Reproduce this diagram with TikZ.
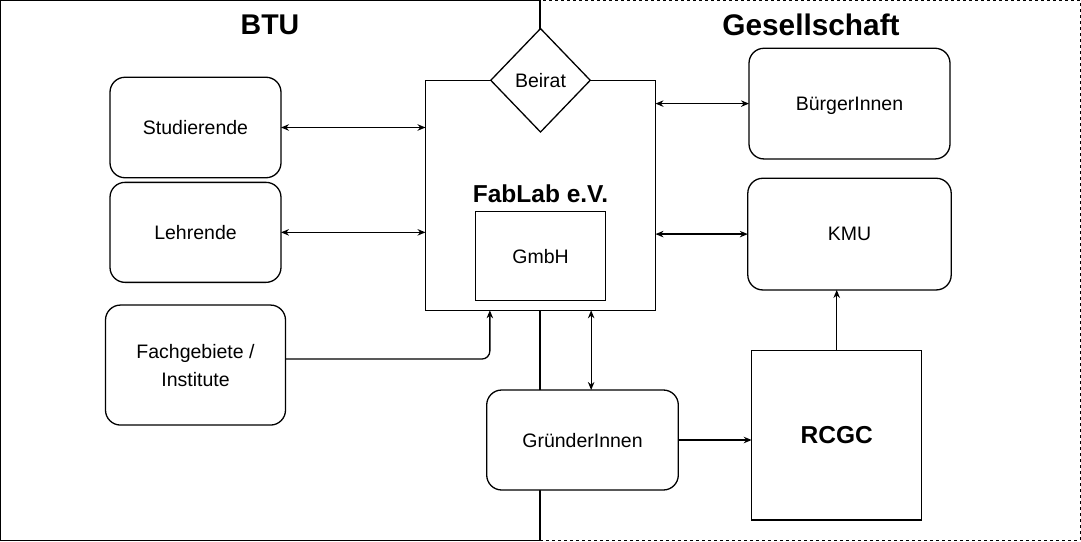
\documentclass[tikz,border=0pt]{standalone}
\usepackage{fontspec}
\setmainfont{Liberation Sans}
\usepackage{tikz}
\usetikzlibrary{positioning,shapes.geometric,arrows.meta}
\newcommand\labfont{\fontsize{19.5}{26}\selectfont}
\tikzset{round node/.style={rectangle,rounded corners=15pt,draw,fill=white,line width=1.3pt,font=\labfont,align=center,inner sep=0pt,outer sep=0pt},}
\tikzset{square node/.style={rectangle,draw,fill=white,line width=1.3pt,font=\labfont,align=center,inner sep=0pt,outer sep=0pt},}
\tikzset{title node/.style={font=\fontsize{28.5}{30}\selectfont\bfseries,inner sep=0pt},}
\tikzset{link/.style={line width=1.3pt,{Stealth[length=8pt,width=6.5pt]}-{Stealth[length=8pt,width=6.5pt]}},}
\tikzset{one way/.style={line width=1.3pt,-{Stealth[length=8pt,width=6.5pt]}},}

\begin{document}
\begin{tikzpicture}[x=1pt,y=-1pt]
       \useasboundingbox (0,0) rectangle (1081,541);
       % the two sides
       \draw[line width=1.3pt,dash pattern=on 3pt off 3pt] (540,0.7) rectangle (1080.3,540.3);
       \draw[line width=1.3pt] (0.7,0.7) rectangle (540,540.3);
       \node[title node] (btu) at (270,24.5) {BTU};
       \node[title node,font=\fontsize{29.8}{30}\selectfont\bfseries] (ges) at (811,24.5) {Gesellschaft};

       \node[round node,minimum width=171pt,minimum height=100.5pt] (stud) at (195.5,127.5) {Studierende};
       \node[round node,minimum width=171pt,minimum height=100pt] (lehr) [below = 4.6pt of stud] {Lehrende};
       \node[round node,minimum width=180pt,minimum height=120pt] (fach) [below = 22.7pt of lehr] {Fachgebiete /\\[2pt]Institute};

       \node[square node,minimum width=230pt,minimum height=230pt] (fablab) at (540.5,195.3) {};
       \node[diamond,draw,fill=white,line width=1.3pt,font=\labfont,inner sep=0pt,minimum width=100pt,minimum height=104pt] (beirat) at (fablab.north) {Beirat};
       \node[square node,minimum width=130.5pt,minimum height=89pt] (gmbh) at (540.5,256.2) {GmbH};
       \node[inner sep=0pt,font=\fontsize{24.5}{26}\selectfont\bfseries] (verein) [above = 9pt of gmbh] {FabLab e.V.};

       \node[round node,minimum width=201pt,minimum height=110.7pt,text height=14.2pt,text depth=0pt] (buerger) at (849.5,103.6) {BürgerInnen};
       \node[round node,minimum width=203.4pt,minimum height=111.7pt] (kmu) [below = 19.3pt of buerger] {KMU};
       \node[round node,minimum width=191.6pt,minimum height=100pt,text height=14.2pt,text depth=0pt] (gruender) at (582.5,440) {GründerInnen};
       \node[square node,minimum width=170pt,minimum height=169.3pt,font=\fontsize{24.5}{26}\selectfont\bfseries] (rcgc) at (836.7,435.3) {RCGC};

       \draw[link] (stud.east) -- (stud.east -| fablab.west);
       \draw[link] (lehr.east) -- (lehr.east -| fablab.west);
       \draw[link] (buerger.west -| fablab.east) -- (buerger.west);
       \draw[link] (kmu.west -| fablab.east) -- (kmu.west);
       \draw[link] (beirat.east |- fablab.south) -- (beirat.east |- gruender.north);
       \draw[one way,rounded corners=8pt] ([yshift=6pt]fach.east) -| (beirat.west |- fablab.south);
       \draw[one way] (gruender.east) -- (gruender.east -| rcgc.west);
       \draw[one way] (rcgc.north) -- (rcgc.north |- kmu.south);
\end{tikzpicture}
\end{document}
